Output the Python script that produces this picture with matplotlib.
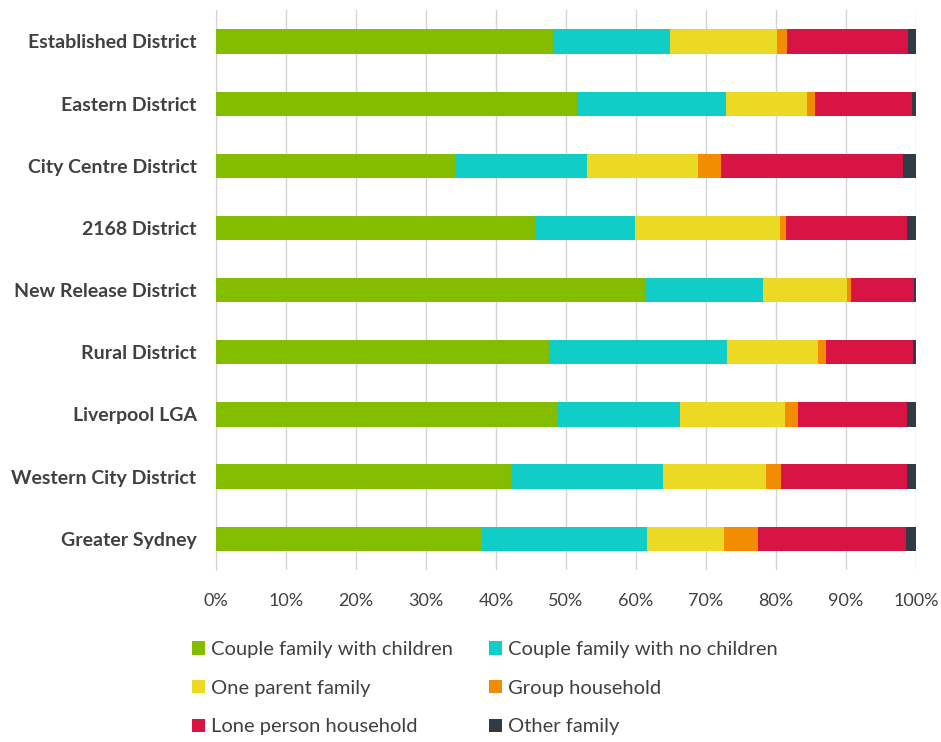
import matplotlib.pyplot as plt
from matplotlib.patches import Patch

plt.rcParams['font.family'] = ['Lato', 'DejaVu Sans']

districts = ['Established District', 'Eastern District', 'City Centre District',
             '2168 District', 'New Release District', 'Rural District',
             'Liverpool LGA', 'Western City District', 'Greater Sydney']

couple_children = [48.1, 51.6, 34.1, 45.5, 61.3, 47.5, 48.8, 42.2, 38.0]
couple_no_children = [16.7, 21.3, 18.9, 14.4, 16.8, 25.5, 17.5, 21.6, 23.6]
one_parent = [15.3, 11.5, 15.8, 20.6, 12.1, 13.0, 15.0, 14.8, 10.9]
group_household = [1.4, 1.1, 3.4, 0.9, 0.5, 1.2, 1.8, 2.1, 4.9]
lone_person = [17.3, 13.9, 26.0, 17.3, 9.0, 12.3, 15.6, 18.0, 21.1]
other_family = [1.2, 0.6, 1.8, 1.3, 0.3, 0.5, 1.3, 1.3, 1.5]

series = [
    ('Couple family with children', couple_children, '#84bd00'),
    ('Couple family with no children', couple_no_children, '#11cdc8'),
    ('One parent family', one_parent, '#ecd924'),
    ('Group household', group_household, '#f28c00'),
    ('Lone person household', lone_person, '#d81444'),
    ('Other family', other_family, '#2f3c45'),
]

text_col = '#404040'

fig = plt.figure(figsize=(9.41, 7.42), dpi=100)
ax = fig.add_axes([0.2295, 0.232, 0.744, 0.754])

ypos = list(range(len(districts)))
left = [0.0] * len(districts)
handles = []
for name, vals, col in series:
    ax.barh(ypos, vals, left=left, height=0.39, color=col, zorder=3)
    left = [l + v for l, v in zip(left, vals)]
    handles.append(Patch(facecolor=col, label=name))

ax.set_xlim(0, 100)
ax.set_ylim(len(districts) - 0.5, -0.5)
ax.set_yticks(ypos)
ax.set_yticklabels(districts, fontsize=14, color=text_col, fontweight='bold')
ax.set_xticks(range(0, 101, 10))
ax.set_xticklabels(['%d%%' % t for t in range(0, 101, 10)], fontsize=13, color=text_col)
ax.tick_params(axis='both', length=0)
ax.tick_params(axis='x', pad=17)
ax.tick_params(axis='y', pad=14)
ax.grid(axis='x', color='#d4d4d4', linewidth=1, zorder=0)
for s in ['top', 'right', 'bottom']:
    ax.spines[s].set_visible(False)
ax.spines['left'].set_color('#d4d4d4')

order = [0, 2, 4, 1, 3, 5]
fig.legend([handles[i] for i in order], [handles[i].get_label() for i in order],
           ncol=2, loc='upper left', bbox_to_anchor=(0.195, 0.147), frameon=False,
           fontsize=14.5, labelcolor=text_col, handlelength=0.65, handleheight=0.65,
           handletextpad=0.3, columnspacing=1.8, labelspacing=1.08, borderaxespad=0)

fig.savefig('out.png', dpi=100)
